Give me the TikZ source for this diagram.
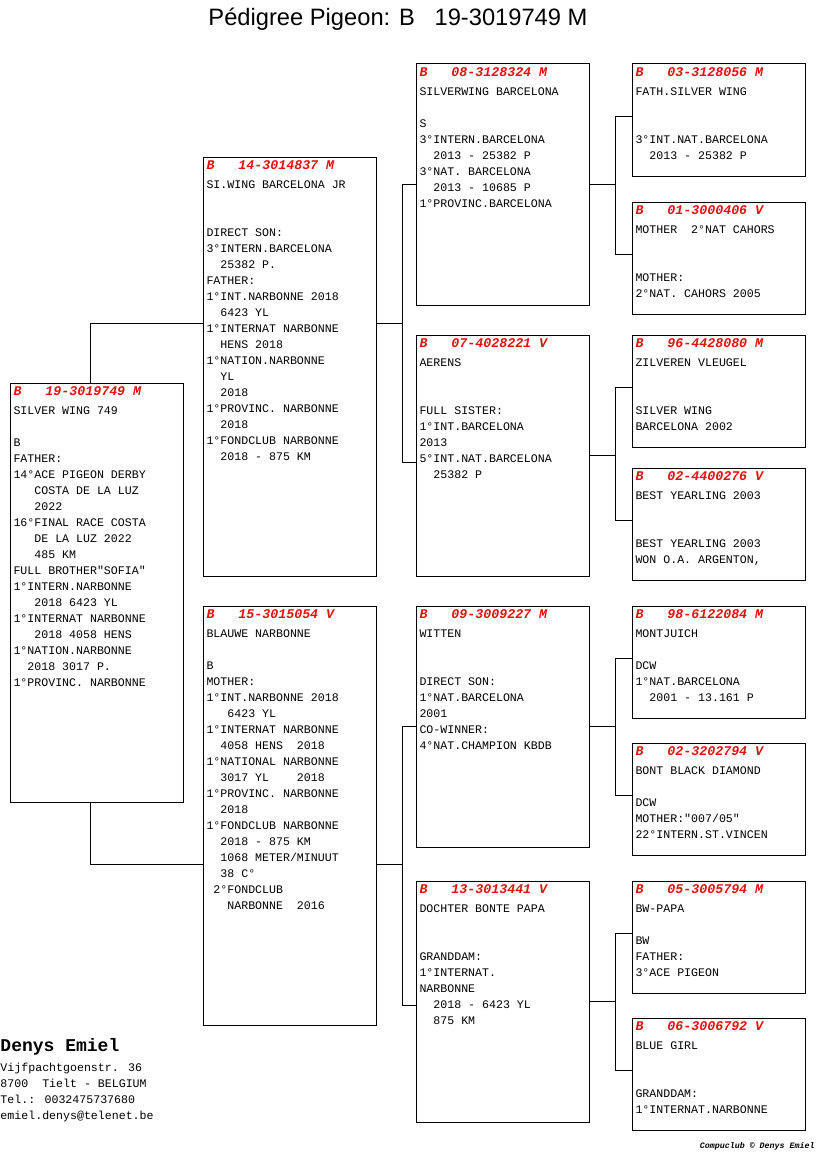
\documentclass[tikz,border=0pt]{standalone}
\usepackage{fontspec}
\setmainfont{Liberation Sans}
\newfontfamily\pedmono{Liberation Mono}
\usetikzlibrary{calc}

\definecolor{ringred}{RGB}{226,16,16}

\begin{document}
\begin{tikzpicture}[
    x=1pt, y=-1pt,
    line width=1pt,
    pbox/.style={draw, anchor=north west, inner sep=0pt, outer sep=0pt, minimum width=173pt},
    tallbox/.style={pbox, minimum height=419pt},
    halfbox/.style={pbox, minimum height=241pt},
    lowbox/.style={pbox, minimum height=112pt},
    ring/.style={anchor=base west, inner sep=0pt, text=ringred,
                 font=\pedmono\fontsize{13.3}{16}\selectfont\bfseries\itshape},
    info/.style={anchor=north west, inner sep=0pt, align=left,
                 font=\pedmono\fontsize{11.6}{16}\selectfont, execute at begin node=\strut},
]
\useasboundingbox (0,0) rectangle (816,1172);

% --- title ---
\node[anchor=base, inner sep=0pt, font=\fontsize{23.7}{28}\selectfont] (title) at (398,26)
      {Pédigree Pigeon: B~~~19-3019749 M};

% --- generation 1 and 2 ---
\node[tallbox] (subject) at (10,383) {};
\node[ring] (subject-r) at ($(subject.north west)+(3,12.5)$) {B~~~19-3019749 M};
\node[info] (subject-t) at ($(subject.north west)+(3,23.5)$) {SILVER WING 749\\~\\B\\FATHER:\\14°ACE PIGEON DERBY\\
      ~~~COSTA DE LA LUZ\\~~~2022\\16°FINAL RACE COSTA\\~~~DE LA LUZ 2022\\~~~485 KM\\
      FULL BROTHER"SOFIA"\\1°INTERN.NARBONNE\\~~~2018 6423 YL\\1°INTERNAT NARBONNE\\
      ~~~2018 4058 HENS\\1°NATION.NARBONNE\\~~2018 3017 P.\\1°PROVINC. NARBONNE};

\node[tallbox] (father) at (203,157) {};
\node[ring] (father-r) at ($(father.north west)+(3,12.5)$) {B~~~14-3014837 M};
\node[info] (father-t) at ($(father.north west)+(3,23.5)$) {SI.WING BARCELONA JR\\~\\~\\DIRECT SON:\\
      3°INTERN.BARCELONA\\~~25382 P.\\FATHER:\\1°INT.NARBONNE 2018\\~~6423 YL\\
      1°INTERNAT NARBONNE\\~~HENS 2018\\1°NATION.NARBONNE\\~~YL\\~~2018\\
      1°PROVINC. NARBONNE\\~~2018\\1°FONDCLUB NARBONNE\\~~2018 - 875 KM};

\node[tallbox] (mother) at (203,606) {};
\node[ring] (mother-r) at ($(mother.north west)+(3,12.5)$) {B~~~15-3015054 V};
\node[info] (mother-t) at ($(mother.north west)+(3,23.5)$) {BLAUWE NARBONNE\\~\\B\\MOTHER:\\
      1°INT.NARBONNE 2018\\~~~6423 YL\\1°INTERNAT NARBONNE\\~~4058 HENS~~2018\\
      1°NATIONAL NARBONNE\\~~3017 YL~~~~2018\\1°PROVINC. NARBONNE\\~~2018\\
      1°FONDCLUB NARBONNE\\~~2018 - 875 KM\\~~1068 METER/MINUUT\\~~38 C°\\
      ~2°FONDCLUB\\~~~NARBONNE~~2016};

% --- generation 3 ---
\node[halfbox] (p08) at (416,64) {};
\node[ring] (p08-r) at ($(p08.north west)+(3,12.5)$) {B~~~08-3128324 M};
\node[info] (p08-t) at ($(p08.north west)+(3,23.5)$) {SILVERWING BARCELONA\\~\\S\\3°INTERN.BARCELONA\\
      ~~2013 - 25382 P\\3°NAT. BARCELONA\\~~2013 - 10685 P\\1°PROVINC.BARCELONA};

\node[halfbox] (p07) at (416,335) {};
\node[ring] (p07-r) at ($(p07.north west)+(3,12.5)$) {B~~~07-4028221 V};
\node[info] (p07-t) at ($(p07.north west)+(3,23.5)$) {AERENS\\~\\~\\FULL SISTER:\\1°INT.BARCELONA\\
      2013\\5°INT.NAT.BARCELONA\\~~25382 P};

\node[halfbox] (p09) at (416,606) {};
\node[ring] (p09-r) at ($(p09.north west)+(3,12.5)$) {B~~~09-3009227 M};
\node[info] (p09-t) at ($(p09.north west)+(3,23.5)$) {WITTEN\\~\\~\\DIRECT SON:\\1°NAT.BARCELONA\\
      2001\\CO-WINNER:\\4°NAT.CHAMPION KBDB};

\node[halfbox] (p13) at (416,881) {};
\node[ring] (p13-r) at ($(p13.north west)+(3,12.5)$) {B~~~13-3013441 V};
\node[info] (p13-t) at ($(p13.north west)+(3,23.5)$) {DOCHTER BONTE PAPA\\~\\~\\GRANDDAM:\\
      1°INTERNAT.\\NARBONNE\\~~2018 - 6423 YL\\~~875 KM};

% --- generation 4 ---
\node[lowbox] (g03) at (632,64) {};
\node[ring] (g03-r) at ($(g03.north west)+(3,12.5)$) {B~~~03-3128056 M};
\node[info] (g03-t) at ($(g03.north west)+(3,23.5)$) {FATH.SILVER WING\\~\\~\\3°INT.NAT.BARCELONA\\~~2013 - 25382 P};

\node[lowbox] (g01) at (632,202) {};
\node[ring] (g01-r) at ($(g01.north west)+(3,12.5)$) {B~~~01-3000406 V};
\node[info] (g01-t) at ($(g01.north west)+(3,23.5)$) {MOTHER~~2°NAT CAHORS\\~\\~\\MOTHER:\\2°NAT. CAHORS 2005};

\node[lowbox] (g96) at (632,335) {};
\node[ring] (g96-r) at ($(g96.north west)+(3,12.5)$) {B~~~96-4428080 M};
\node[info] (g96-t) at ($(g96.north west)+(3,23.5)$) {ZILVEREN VLEUGEL\\~\\~\\SILVER WING\\BARCELONA 2002};

\node[lowbox] (g02a) at (632,468) {};
\node[ring] (g02a-r) at ($(g02a.north west)+(3,12.5)$) {B~~~02-4400276 V};
\node[info] (g02a-t) at ($(g02a.north west)+(3,23.5)$) {BEST YEARLING 2003\\~\\~\\BEST YEARLING 2003\\WON O.A. ARGENTON,};

\node[lowbox] (g98) at (632,606) {};
\node[ring] (g98-r) at ($(g98.north west)+(3,12.5)$) {B~~~98-6122084 M};
\node[info] (g98-t) at ($(g98.north west)+(3,23.5)$) {MONTJUICH\\~\\DCW\\1°NAT.BARCELONA\\~~2001 - 13.161 P};

\node[lowbox] (g02b) at (632,743) {};
\node[ring] (g02b-r) at ($(g02b.north west)+(3,12.5)$) {B~~~02-3202794 V};
\node[info] (g02b-t) at ($(g02b.north west)+(3,23.5)$) {BONT BLACK DIAMOND\\~\\DCW\\MOTHER:"007/05"\\22°INTERN.ST.VINCEN};

\node[lowbox] (g05) at (632,881) {};
\node[ring] (g05-r) at ($(g05.north west)+(3,12.5)$) {B~~~05-3005794 M};
\node[info] (g05-t) at ($(g05.north west)+(3,23.5)$) {BW-PAPA\\~\\BW\\FATHER:\\3°ACE PIGEON};

\node[lowbox] (g06) at (632,1018) {};
\node[ring] (g06-r) at ($(g06.north west)+(3,12.5)$) {B~~~06-3006792 V};
\node[info] (g06-t) at ($(g06.north west)+(3,23.5)$) {BLUE GIRL\\~\\~\\GRANDDAM:\\1°INTERNAT.NARBONNE};

% --- junctions ---
\coordinate (jS) at (90,592);
\coordinate (jF) at (402,323);
\coordinate (jM) at (402,864);
\coordinate (j08) at ($(p08.east)+(26,0)$);
\coordinate (j07) at ($(p07.east)+(26,0)$);
\coordinate (j09) at ($(p09.east)+(26,0)$);
\coordinate (j13) at ($(p13.east)+(26,0)$);

% subject to parents
\draw (father.west |- jF) -| (jS |- subject.north);
\draw (mother.west |- jM) -| (jS |- subject.south);

% parents to grandparents
\draw (father.east |- jF) -- (jF);
\draw (p08.west) -| (jF);
\draw ([yshift=-7pt]p07.west) -| (jF);
\draw (mother.east |- jM) -- (jM);
\draw (p09.west) -| (jM);
\draw ([yshift=-4pt]p13.west) -| (jM);

% grandparents to great-grandparents
\draw (p08.east) -- (j08);
\draw ([yshift=4pt]g03.west) -| (j08);
\draw ([yshift=4pt]g01.west) -| (j08);
\draw (p07.east) -- (j07);
\draw ([yshift=4pt]g96.west) -| (j07);
\draw ([yshift=4pt]g02a.west) -| (j07);
\draw (p09.east) -- (j09);
\draw ([yshift=4pt]g98.west) -| (j09);
\draw ([yshift=4pt]g02b.west) -| (j09);
\draw (p13.east) -- (j13);
\draw ([yshift=4pt]g05.west) -| (j13);
\draw ([yshift=4pt]g06.west) -| (j13);

% --- breeder ---
\node[anchor=base west, inner sep=0pt, font=\pedmono\fontsize{18}{20}\selectfont\bfseries] (breeder) at (0,1051) {Denys Emiel};
\node[info] (address) at (0,1062.5)
      {Vijfpachtgoenstr. 36\\8700~~Tielt - BELGIUM\\Tel.: 0032475737680\\emiel.denys@telenet.be};
\node[anchor=base east, inner sep=0pt, font=\pedmono\fontsize{8.3}{10}\selectfont\bfseries\itshape] (credit) at (815,1148)
      {Compuclub © Denys Emiel};

\end{tikzpicture}
\end{document}
